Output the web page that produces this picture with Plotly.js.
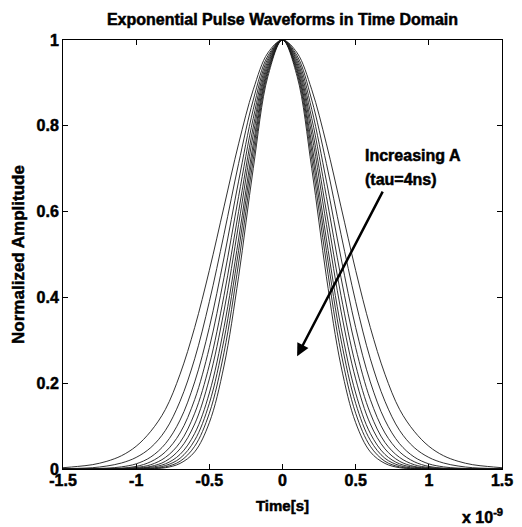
<!DOCTYPE html>
<html>
<head>
<meta charset="utf-8">
<script src="https://cdn.plot.ly/plotly-3.0.1.min.js"></script>
<style>
  html, body { margin: 0; padding: 0; background: #fff; }
  #chart { width: 522px; height: 527px; }
  /* heavy, print-style lettering */
  #chart svg text { stroke: #000; stroke-width: 0.5px; }
</style>
</head>
<body>
<div id="chart"></div>
<script>
// Time axis in nanoseconds (axis is labelled x 10^-9 s)
const timeNs = [-1.5,-1.4,-1.3,-1.2,-1.1,-1.0,-0.9,-0.8,-0.7,-0.6,-0.5,-0.4,-0.3,-0.2,-0.1,0,
                0.1,0.2,0.3,0.4,0.5,0.6,0.7,0.8,0.9,1.0,1.1,1.2,1.3,1.4,1.5];

// Normalized pulse amplitudes, widest pulse first (smallest A) to narrowest (largest A)
const pulseA1  = [.003,.006,.010,.018,.031,.053,.088,.139,.221,.330,.463,.611,.758,.884,.970,1,.970,.884,.758,.611,.463,.330,.221,.139,.088,.053,.031,.018,.010,.006,.003];
const pulseA2  = [.0007,.0015,.003,.007,.014,.027,.050,.090,.158,.257,.390,.547,.712,.860,.963,1,.963,.860,.712,.547,.390,.257,.158,.090,.050,.027,.014,.007,.003,.0015,.0007];
const pulseA3  = [0,0,.001,.002,.005,.012,.028,.059,.114,.203,.330,.492,.671,.838,.957,1,.957,.838,.671,.492,.330,.203,.114,.059,.028,.012,.005,.002,.001,0,0];
const pulseA4  = [0,0,0,.001,.002,.006,.017,.040,.084,.162,.283,.446,.635,.817,.951,1,.951,.817,.635,.446,.283,.162,.084,.040,.017,.006,.002,.001,0,0,0];
const pulseA5  = [0,0,0,0,.001,.0035,.010,.027,.062,.130,.242,.404,.600,.797,.945,1,.945,.797,.600,.404,.242,.130,.062,.027,.010,.0035,.001,0,0,0,0];
const pulseA6  = [0,0,0,0,.0005,.002,.006,.018,.047,.105,.210,.368,.570,.779,.939,1,.939,.779,.570,.368,.210,.105,.047,.018,.006,.002,.0005,0,0,0,0];
const pulseA7  = [0,0,0,0,0,.001,.004,.012,.034,.083,.177,.330,.536,.758,.933,1,.933,.758,.536,.330,.177,.083,.034,.012,.004,.001,0,0,0,0,0];
const pulseA8  = [0,0,0,0,0,.0006,.002,.008,.025,.067,.153,.301,.509,.741,.928,1,.928,.741,.509,.301,.153,.067,.025,.008,.002,.0006,0,0,0,0,0];
const pulseA9  = [0,0,0,0,0,0,.001,.005,.018,.053,.130,.271,.480,.721,.922,1,.922,.721,.480,.271,.130,.053,.018,.005,.001,0,0,0,0,0,0];
const pulseA10 = [0,0,0,0,0,0,.0007,.003,.013,.040,.108,.240,.448,.700,.915,1,.915,.700,.448,.240,.108,.040,.013,.003,.0007,0,0,0,0,0,0];

const xTickVals = [-1.5,-1,-0.5,0,0.5,1,1.5];
const xTickText = ['-1.5','-1','-0.5','0','0.5','1','1.5'];
const yTickVals = [0,0.2,0.4,0.6,0.8,1];
const yTickText = ['0','0.2','0.4','0.6','0.8','1'];

const pulses = [pulseA1,pulseA2,pulseA3,pulseA4,pulseA5,pulseA6,pulseA7,pulseA8,pulseA9,pulseA10];

const FONT = 'Liberation Sans, Arial, Helvetica, sans-serif';

const traces = pulses.map(y => ({
  x: timeNs,
  y: y,
  type: 'scatter',
  mode: 'lines',
  line: { color: '#1a1a1a', width: 0.9, shape: 'spline', smoothing: 1 },
  showlegend: false,
  hoverinfo: 'skip'
}));

const axisCommon = {
  showline: true, linecolor: '#000', linewidth: 1,
  mirror: 'ticks', ticks: 'inside', ticklen: 5, tickwidth: 1, tickcolor: '#000',
  showgrid: false, zeroline: false,
  tickfont: { family: FONT, size: 16, weight: 'bold', color: '#000' }
};

const layout = {
  width: 522, height: 527, autosize: false,
  margin: { l: 63, r: 20, t: 40, b: 58 },
  paper_bgcolor: '#fff', plot_bgcolor: '#fff',
  title: {
    text: 'Exponential Pulse Waveforms in Time Domain',
    font: { family: FONT, size: 16, weight: 'bold', color: '#000' },
    x: 0.5, xref: 'paper', y: 0.964, yref: 'container', yanchor: 'middle'
  },
  xaxis: Object.assign({}, axisCommon, {
    range: [-1.5, 1.5],
    tickmode: 'array', tickvals: xTickVals, ticktext: xTickText,
    ticklabelstandoff: -3,
    title: { text: 'Time[s]', standoff: 12,
             font: { family: FONT, size: 15, weight: 'bold', color: '#000' } }
  }),
  yaxis: Object.assign({}, axisCommon, {
    range: [0, 1],
    tickmode: 'array', tickvals: yTickVals, ticktext: yTickText,
    title: { text: 'Normalized Amplitude', standoff: 7,
             font: { family: FONT, size: 17, weight: 'bold', color: '#000' } }
  }),
  annotations: [
    { x: 0.10, y: 0.263, ax: 0.69, ay: 0.65, xref: 'x', yref: 'y', axref: 'x', ayref: 'y',
      text: '', showarrow: true, arrowhead: 2, arrowsize: 1, arrowwidth: 2.5, arrowcolor: '#000' },
    { x: 0.547, y: 0.730, xref: 'x', yref: 'y', xanchor: 'left', yanchor: 'middle',
      text: 'Increasing A', showarrow: false,
      font: { family: FONT, size: 16, weight: 'bold', color: '#000' } },
    { x: 0.547, y: 0.674, xref: 'x', yref: 'y', xanchor: 'left', yanchor: 'middle',
      text: '(tau=4ns)', showarrow: false,
      font: { family: FONT, size: 16, weight: 'bold', color: '#000' } },
    { x: 0.904, y: -0.110, xref: 'paper', yref: 'paper', xanchor: 'left', yanchor: 'middle',
      text: 'x 10<sup>-9</sup>', showarrow: false,
      font: { family: FONT, size: 16, weight: 'bold', color: '#000' } }
  ]
};

Plotly.newPlot('chart', traces, layout, { displayModeBar: false, staticPlot: true });
</script>
</body>
</html>
